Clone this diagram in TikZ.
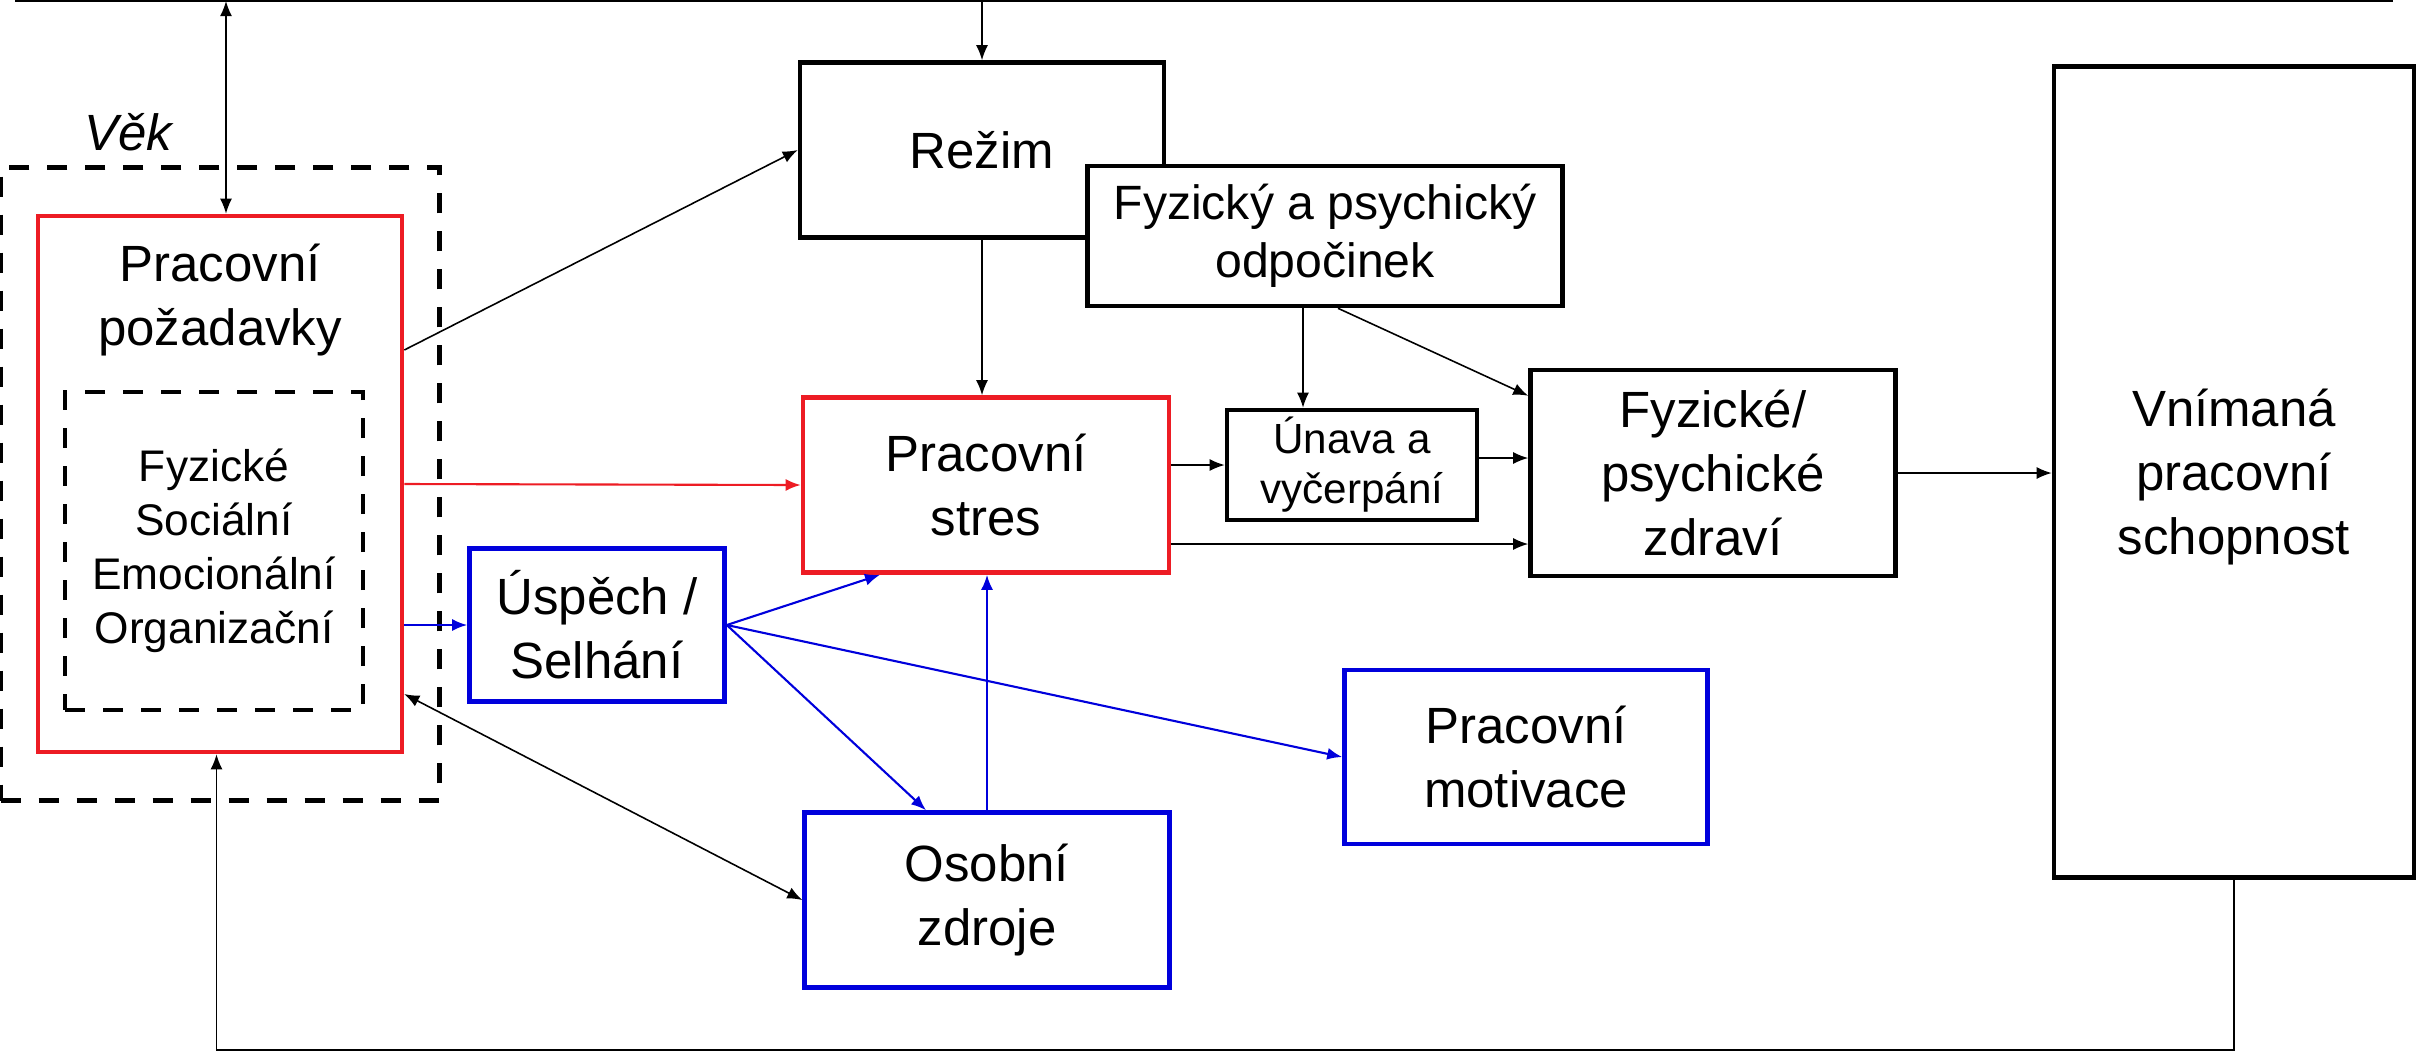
\documentclass[tikz,border=0pt]{standalone}
\usepackage{fontspec}
\setmainfont{Liberation Sans}
\usetikzlibrary{arrows.meta,fit,positioning}
\definecolor{boxred}{RGB}{237,28,36}
\definecolor{boxblue}{RGB}{0,0,220}

\begin{document}
\begin{tikzpicture}[x=0.1mm,y=-0.1mm]
    \tikzstyle{main}=[rectangle, draw=black, fill=white, line width=1.3pt, align=center, inner sep=0pt, font=\fontsize{14.5}{18.2}\selectfont]
    \tikzstyle{redbox}=[main, draw=boxred]
    \tikzstyle{bluebox}=[main, draw=boxblue]
    \tikzstyle{group}=[rectangle, draw=black, line width=1.4pt, dash pattern=on 2mm off 1.8mm]
    \tikzstyle{connect}=[-{Latex[length=1.5mm,width=1.2mm]}, line width=0.45pt]
    \tikzstyle{both}=[{Latex[length=1.5mm,width=1.2mm]}-{Latex[length=1.5mm,width=1.2mm]}, line width=0.45pt]
    \tikzstyle{redconnect}=[connect, color=boxred, line width=0.6pt]
    \tikzstyle{blueconnect}=[connect, color=boxblue, line width=0.6pt]
    \useasboundingbox (0,0) rectangle (2417,1052);

      \node[redbox, minimum width=36.4mm, minimum height=53.6mm] (req) at (220,484) {};
      \node[font=\fontsize{14.5}{18.2}\selectfont, align=center] (reqtext) at (220,300) {Pracovní\\požadavky};
      \node[group, align=center, minimum width=29.8mm, minimum height=31.8mm, font=\fontsize{12.6}{15.4}\selectfont] (kinds) at (214,551) {Fyzické\\Sociální\\Emocionální\\Organizační};
      \node[group, inner xsep=3.5mm, inner ysep=4.65mm, fit=(req)] (age) {};
      \node[font=\itshape\fontsize{14.5}{18}\selectfont] (agetext) at (128,132) {Věk};

      \node[main, minimum width=36.4mm, minimum height=17.5mm] (regime) at (982,150) {Režim};
      \node[main, minimum width=47.5mm, minimum height=14mm, font=\fontsize{13.7}{16.5}\selectfont] (rest) at (1325,236) {Fyzický a psychický\\odpočinek};
      \node[redbox, minimum width=36.6mm, minimum height=17.5mm] (stress) at (986,485) {Pracovní\\stres};
      \node[main, minimum width=25mm, minimum height=11mm, font=\fontsize{12}{14.2}\selectfont] (fatigue) at (1352,465) {Únava a\\vyčerpání};
      \node[main, minimum width=36.5mm, minimum height=20.6mm] (health) at (1713,473) {Fyzické/\\psychické\\zdraví};
      \node[main, minimum width=36mm, minimum height=81.1mm, text depth=0pt] (ability) at (2234,472) {Vnímaná\\pracovní\\schopnost};
      \node[bluebox, minimum width=25.5mm, minimum height=15.3mm] (success) at (597,625) {Úspěch /\\Selhání};
      \node[bluebox, minimum width=36.3mm, minimum height=17.4mm] (motivation) at (1526,757) {Pracovní\\motivace};
      \node[bluebox, minimum width=36.5mm, minimum height=17.5mm] (resources) at (987,900) {Osobní\\zdroje};

      \coordinate (topleft) at (15,1);
      \coordinate (topright) at (2393,1);
      \coordinate (agetop) at (226,1);
      \coordinate (bottom) at (0,1050);

      % feedback along the top
      \draw[line width=0.45pt] (topleft) -- (topright);
      \draw[both] (agetop) -- (agetop |- req.north);
      \path (regime.north |- topleft) edge [connect] (regime.north);

      \draw[connect] ([yshift=13.4mm]req.east) -- (regime.west);
      \draw[redconnect] (req.east) -- (stress.west);
      \draw[blueconnect] (req.east |- success.west) -- (success.west);
      \draw[both] ([yshift=-21mm]req.east) -- (resources.west);
      \draw[connect] (regime.south) -- (regime.south |- stress.north);
      \draw[connect] ([xshift=-2.2mm]rest.south) -- ([xshift=-2.2mm]rest.south |- fatigue.north);
      \draw[connect] ([xshift=1.3mm]rest.south) -- ([yshift=-2.8mm]health.north west);
      \draw[connect] (stress.east |- fatigue.west) -- (fatigue.west);
      \draw[connect] ([yshift=0.7mm]fatigue.east) -- ([yshift=0.7mm]fatigue.east -| health.west);
      \draw[connect] ([yshift=-5.9mm]stress.east) -- ([yshift=-5.9mm]stress.east -| health.west);
      \draw[connect] (health.east) -- (health.east -| ability.west);
      \draw[blueconnect] (success.east) -- ([xshift=-10.6mm]stress.south);
      \draw[blueconnect] (success.east) -- ([xshift=-6.1mm]resources.north);
      \draw[blueconnect] (success.east) -- (motivation.west);
      \draw[blueconnect] (resources.north) -- (resources.north |- stress.south);
      % feedback along the bottom
      \draw[connect] (ability.south) -- (ability.south |- bottom) -| ([xshift=-0.35mm]req.south);
    \end{tikzpicture}
\end{document}
